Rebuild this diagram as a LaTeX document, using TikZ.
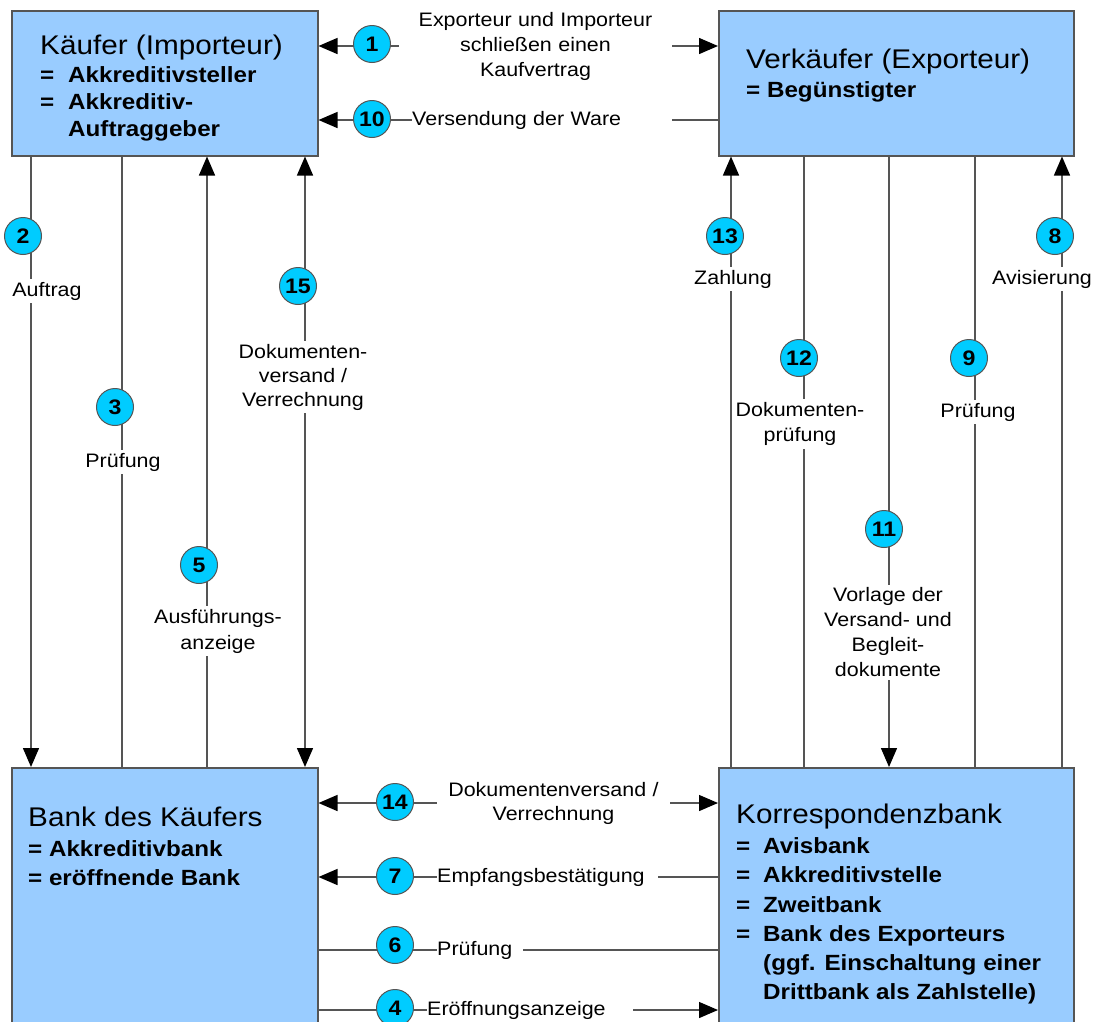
\documentclass[tikz,border=0pt]{standalone}
\usepackage{fontspec}
\setmainfont{Liberation Sans}[FakeStretch=1.1]
\usetikzlibrary{arrows.meta,positioning,calc}
\definecolor{boxblue}{HTML}{99CCFF}
\definecolor{numcyan}{HTML}{00CCFF}
\definecolor{linegray}{HTML}{555555}
\newcommand\lblfont{\fontsize{19.5}{25}\selectfont}
\newcommand\eqsign[1][28pt]{\makebox[#1][l]{=}}

\begin{document}
\begin{tikzpicture}[
    x=1pt, y=-1pt,
    >={Triangle[length=19pt,width=16pt,color=black]},
    party/.style={draw=linegray, fill=boxblue, line width=1.5pt, inner sep=0pt, anchor=north west},
    boxtitle/.style={font=\fontsize{27}{30}\selectfont, inner sep=0pt, anchor=west},
    boxlist/.style={font=\fontsize{22}{27}\selectfont\bfseries, align=left, inner sep=0pt, anchor=west},
    flow/.style={draw=linegray, line width=1.4pt},
    stepnum/.style={circle, draw=linegray, fill=numcyan, line width=1pt, minimum size=37pt, inner sep=0pt, font=\fontsize{21}{21}\selectfont\bfseries},
    lbl/.style={fill=white, inner xsep=0pt, inner ysep=3pt, align=center, font=\lblfont}
]
\useasboundingbox (0,0) rectangle (1096,1021);
\clip (0,0) rectangle (1096,1021);

% Parties
\node[party, minimum width=306pt, minimum height=145pt] (kaeufer) at (11,10) {};
\node[party, minimum width=355pt, minimum height=145pt] (verk) at (718,10) {};
\node[party, minimum width=306pt, minimum height=280pt] (bankk) at (11,767) {};
\node[party, minimum width=355pt, minimum height=280pt] (korr) at (718,767) {};

\node[boxtitle] (kaeuferT) at (40,48) {Käufer (Importeur)};
\node[boxlist] (kaeuferL) at (40,104) {\eqsign Akkreditivsteller\\\eqsign Akkreditiv-\\\makebox[28pt]{}Auftraggeber};
\node[boxtitle] (verkT) at (746,62) {Verkäufer (Exporteur)};
\node[boxlist] (verkL) at (746,92) {= Begünstigter};
\node[boxtitle] (bankkT) at (28,817) {Bank des Käufers};
\node[boxlist, font=\fontsize{22}{29}\selectfont\bfseries] (bankkL) at (28,863.5) {= Akkreditivbank\\= eröffnende Bank};
\node[boxtitle] (korrT) at (736,817) {Korrespondenzbank};
\node[boxlist, font=\fontsize{22}{29.2}\selectfont\bfseries] (korrL) at (736,921) {\eqsign[27pt]Avisbank\\\eqsign[27pt]Akkreditivstelle\\\eqsign[27pt]Zweitbank\\\eqsign[27pt]Bank des Exporteurs\\\makebox[27pt]{}(ggf. Einschaltung einer\\\makebox[27pt]{}Drittbank als Zahlstelle)};

% Käufer <-> Verkäufer
\draw[flow, <->] ([yshift=-36pt]kaeufer.north east) -- ([yshift=-36pt]verk.north west);
\draw[flow, <-] ([yshift=-110pt]kaeufer.north east) -- ([yshift=-110pt]verk.north west);

% Käufer <-> Bank des Käufers
\draw[flow, ->] ([xshift=20pt]kaeufer.south west) -- ([xshift=20pt]bankk.north west);
\draw[flow] ([xshift=111pt]kaeufer.south west) -- ([xshift=111pt]bankk.north west);
\draw[flow, <-] ([xshift=196pt]kaeufer.south west) -- ([xshift=196pt]bankk.north west);
\draw[flow, <->] ([xshift=294pt]kaeufer.south west) -- ([xshift=294pt]bankk.north west);

% Verkäufer <-> Korrespondenzbank
\draw[flow, <-] ([xshift=13pt]verk.south west) -- ([xshift=13pt]korr.north west);
\draw[flow] ([xshift=86pt]verk.south west) -- ([xshift=86pt]korr.north west);
\draw[flow, ->] ([xshift=171pt]verk.south west) -- ([xshift=171pt]korr.north west);
\draw[flow] ([xshift=257pt]verk.south west) -- ([xshift=257pt]korr.north west);
\draw[flow, <-] ([xshift=344pt]verk.south west) -- ([xshift=344pt]korr.north west);

% Bank des Käufers <-> Korrespondenzbank
\draw[flow, <->] ([yshift=-36pt]bankk.north east) -- ([yshift=-36pt]korr.north west);
\draw[flow, <-] ([yshift=-110pt]bankk.north east) -- ([yshift=-110pt]korr.north west);
\draw[flow] ([yshift=-183pt]bankk.north east) -- ([yshift=-183pt]korr.north west);
\draw[flow, ->] ([yshift=-243pt]bankk.north east) -- ([yshift=-243pt]korr.north west);

% Labels
\node[lbl, text width=273pt] (t1) at (535.5,46) {Exporteur und Importeur\\schließen einen\\Kaufvertrag};
\node[lbl, text width=260pt, align=left, anchor=west] (t10) at (412,120) {Versendung der Ware};
\node[lbl] (t2) at (47,291) {Auftrag};
\node[lbl] (t3) at (123,462) {Prüfung};
\node[lbl, font=\fontsize{19.5}{26}\selectfont] (t5) at (218,631) {Ausführungs-\\anzeige};
\node[lbl, font=\fontsize{19.5}{24}\selectfont] (t15) at (303,377) {Dokumenten-\\versand /\\Verrechnung};
\node[lbl] (t13) at (733,279) {Zahlung};
\node[lbl] (t8) at (1042,279) {Avisierung};
\node[lbl] (t12) at (800,424) {Dokumenten-\\prüfung};
\node[lbl] (t9) at (978,412) {Prüfung};
\node[lbl] (t11) at (888,632.5) {Vorlage der\\Versand- und\\Begleit-\\dokumente};
\node[lbl, font=\fontsize{19.5}{24}\selectfont, text width=233pt] (t14) at (553.5,803) {Dokumentenversand /\\Verrechnung};
\node[lbl, text width=221pt, align=left, anchor=west] (t7) at (437,877) {Empfangsbestätigung};
\node[lbl, text width=86pt, align=left, anchor=west] (t6) at (437,950) {Prüfung};
\node[lbl, text width=206pt, align=left, anchor=west] (t4) at (427,1010) {Eröffnungsanzeige};

% Step numbers
\node[stepnum] (n1) at (372,44) {1};
\node[stepnum] (n10) at (372,119) {10};
\node[stepnum] (n2) at (23,236) {2};
\node[stepnum] (n15) at (298,286) {15};
\node[stepnum] (n3) at (115,407) {3};
\node[stepnum] (n5) at (199,565) {5};
\node[stepnum] (n13) at (725,236) {13};
\node[stepnum] (n8) at (1055,236) {8};
\node[stepnum] (n12) at (799,358) {12};
\node[stepnum] (n9) at (969,358) {9};
\node[stepnum] (n11) at (884,529) {11};
\node[stepnum] (n14) at (395,802) {14};
\node[stepnum] (n7) at (395,876) {7};
\node[stepnum] (n6) at (395,945) {6};
\node[stepnum] (n4) at (395,1008) {4};
\end{tikzpicture}
\end{document}
